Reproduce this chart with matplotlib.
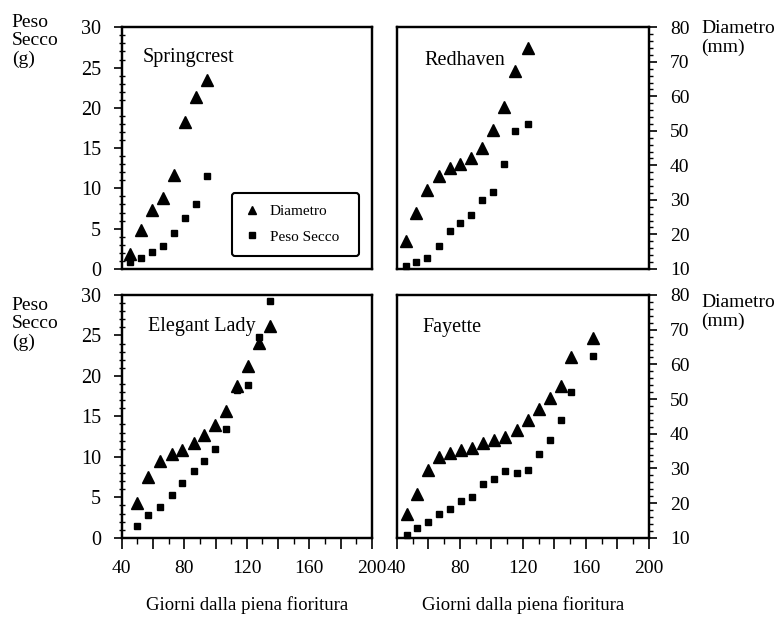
import matplotlib
matplotlib.use("Agg")
import matplotlib.pyplot as plt
from matplotlib.ticker import MultipleLocator, FixedLocator, NullFormatter

plt.rcParams['font.family'] = ['Liberation Serif', 'DejaVu Serif']

# Springcrest
sc_days = [45, 52.5, 59.5, 66.5, 73.5, 80.5, 87.5, 94.5]
sc_diam = [14.3, 21.3, 27.2, 30.5, 37.3, 52.5, 59.9, 64.7]
sc_peso = [0.8, 1.3, 2.1, 2.9, 4.4, 6.3, 8.0, 11.5]

# Redhaven
rh_days = [46, 52.5, 59.5, 66.5, 73.5, 80, 87, 94, 101, 108, 115, 123]
rh_diam = [18.2, 26.1, 32.9, 36.8, 39.2, 40.4, 42.1, 45.0, 50.3, 56.8, 67.2, 74.1]
rh_peso = [0.4, 0.8, 1.4, 2.9, 4.7, 5.7, 6.7, 8.6, 9.6, 13.0, 17.1, 18.0]

# Elegant Lady
el_days = [49.5, 57, 64.5, 72, 78.5, 86, 92.5, 99.5, 107, 114, 121, 127.5, 135]
el_diam = [20.1, 27.5, 32.0, 34.2, 35.2, 37.3, 39.7, 42.6, 46.6, 53.8, 59.6, 66.1, 71.1]
el_peso = [1.5, 2.8, 3.8, 5.3, 6.8, 8.2, 9.5, 11.0, 13.5, 18.3, 18.9, 24.8, 29.3]

# Fayette
fy_days = [46.5, 53, 60, 67, 74, 81, 88, 94.5, 101.5, 108.5, 116, 123.5, 130, 137, 144, 150.5, 164.5]
fy_diam = [17.0, 22.5, 29.5, 33.4, 34.3, 35.3, 35.8, 37.2, 38.2, 39.1, 41.1, 44.1, 47.1, 50.4, 53.8, 62.2, 67.5]
fy_peso = [0.4, 1.2, 2.0, 2.9, 3.6, 4.5, 5.1, 6.7, 7.3, 8.2, 8.0, 8.4, 10.4, 12.1, 14.6, 18.0, 22.4]

x_ticks = [40, 60, 80, 100, 120, 140, 160, 180, 200]
x_labels = ['40', '', '80', '', '120', '', '160', '', '200']

fig = plt.figure(figsize=(7.81, 6.21), dpi=100)


def make_panel(rect, days, diam, peso, name, name_pos, left_side, bottom):
    ax = fig.add_axes(rect)
    ax2 = ax.twinx()
    ax.set_xlim(40, 200)
    ax.set_ylim(0, 30)
    ax2.set_ylim(10, 80)

    ax2.plot(days, diam, linestyle='none', marker='^', color='black', markersize=8.5,
             label='Diametro', clip_on=False)
    ax.plot(days, peso, linestyle='none', marker='s', color='black', markersize=5,
            label='Peso Secco', clip_on=False)

    for a in (ax, ax2):
        for s in a.spines.values():
            s.set_linewidth(1.6)
            s.set_color('black')

    # y axes: left for Peso Secco, right for Diametro
    if left_side:
        ax.yaxis.set_major_locator(MultipleLocator(5))
        ax.yaxis.set_minor_locator(MultipleLocator(1))
        ax.tick_params(axis='y', which='major', direction='out', length=6, width=1.2,
                       labelsize=14.5, pad=9)
        ax.tick_params(axis='y', which='minor', direction='inout', length=4, width=1)
        ax2.tick_params(axis='y', which='both', right=False, labelright=False)
    else:
        ax.tick_params(axis='y', which='both', left=False, labelleft=False)
        ax2.yaxis.set_major_locator(MultipleLocator(10))
        ax2.yaxis.set_minor_locator(MultipleLocator(2))
        ax2.tick_params(axis='y', which='major', direction='out', length=6, width=1.2,
                        labelsize=14, pad=9)
        ax2.tick_params(axis='y', which='minor', direction='out', length=3, width=1)

    if bottom:
        ax.xaxis.set_major_locator(FixedLocator(x_ticks))
        ax.set_xticklabels(x_labels)
        ax.xaxis.set_minor_locator(MultipleLocator(10))
        ax.tick_params(axis='x', which='major', direction='out', length=8, width=1.2,
                       labelsize=14, pad=8)
        ax.tick_params(axis='x', which='minor', direction='out', length=4, width=1)
        ax.set_xlabel('Giorni dalla piena fioritura', fontsize=13.5, labelpad=14)
    else:
        ax.tick_params(axis='x', which='both', bottom=False, labelbottom=False)
        ax.xaxis.set_minor_formatter(NullFormatter())

    ax.text(name_pos[0], name_pos[1], name, transform=ax.transAxes, fontsize=14.5,
            ha='left', va='center')
    return ax, ax2


ax_sc, ax_sc2 = make_panel([0.156, 0.567, 0.320, 0.389], sc_days, sc_diam, sc_peso,
                           'Springcrest', (0.085, 0.876), True, False)
ax_rh, ax_rh2 = make_panel([0.508, 0.567, 0.323, 0.389], rh_days, rh_diam, rh_peso,
                           'Redhaven', (0.11, 0.864), False, False)
ax_el, ax_el2 = make_panel([0.156, 0.134, 0.320, 0.391], el_days, el_diam, el_peso,
                           'Elegant Lady', (0.105, 0.872), True, True)
ax_fy, ax_fy2 = make_panel([0.508, 0.134, 0.323, 0.391], fy_days, fy_diam, fy_peso,
                           'Fayette', (0.10, 0.864), False, True)

# legend in the Springcrest panel
h1, l1 = ax_sc2.get_legend_handles_labels()
h2, l2 = ax_sc.get_legend_handles_labels()
leg = ax_sc.legend(h1 + h2, l1 + l2, loc='lower left', bbox_to_anchor=(0.44, 0.054, 0.508, 0.276),
                   mode='expand', borderaxespad=0, fontsize=11, frameon=True, fancybox=True,
                   markerscale=0.75, handletextpad=0.7, borderpad=0.8, labelspacing=0.75,
                   handlelength=1.0)
leg.get_frame().set_edgecolor('black')
leg.get_frame().set_linewidth(1.5)
leg.get_frame().set_alpha(1)
ax_sc2.set_zorder(1)
ax_sc.set_zorder(2)
ax_sc.patch.set_visible(False)

# axis titles
for y_left, y_right in ((0.978, 0.968), (0.522, 0.527)):
    fig.text(0.015, y_left, 'Peso\nSecco\n(g)', fontsize=14, ha='left', va='top', linespacing=1.12)
    fig.text(0.898, y_right, 'Diametro\n(mm)', fontsize=14, ha='left', va='top', linespacing=1.12)

fig.savefig('out.png', dpi=100)
